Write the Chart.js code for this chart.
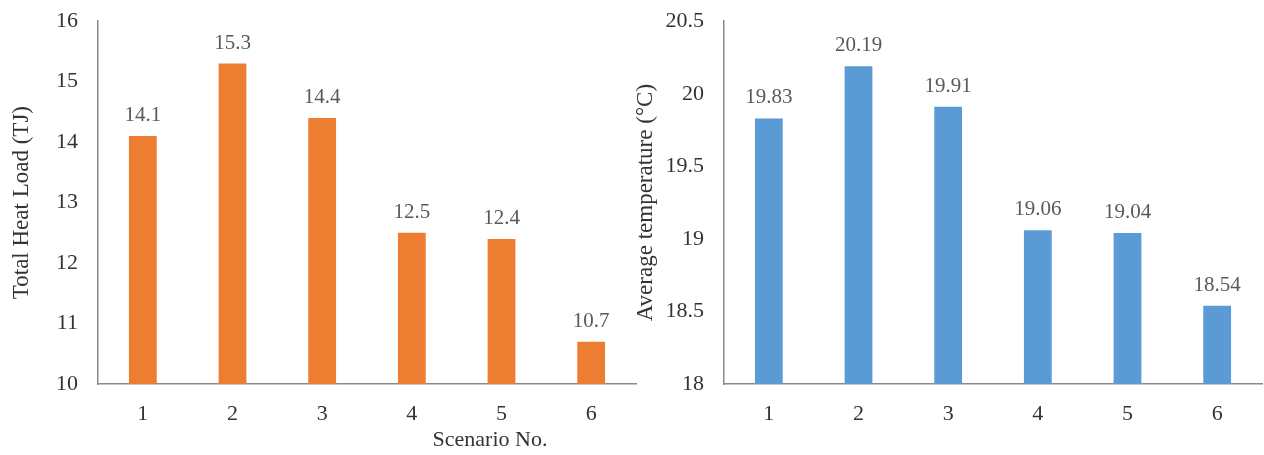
<!DOCTYPE html>
<html lang="en">

<head>
   <meta charset="UTF-8">
   <title>Scenario comparison</title>
   <style>
      body { margin: 0; background: #fff; }
      #wrap { position: relative; width: 1264px; height: 455px; overflow: hidden; }
      canvas { position: absolute; top: -12px; }
      #heat { left: 0; }
      #temp { left: 630px; }
      #xtitle {
         position: absolute; left: 390px; width: 200px; top: 426px; text-align: center;
         font-family: "Liberation Serif", "Times New Roman", serif; font-size: 22px; color: #333;
      }
   </style>
</head>

<body>
   <script src="https://cdn.jsdelivr.net/npm/chart.js"></script>
   <div id="wrap">
      <canvas id="heat" width="640" height="467"></canvas>
      <canvas id="temp" width="634" height="467"></canvas>
      <div id="xtitle">Scenario No.</div>
   </div>
   <script>
      const scenarios = ["1", "2", "3", "4", "5", "6"];
      const heatLoad = [14.1, 15.3, 14.4, 12.5, 12.4, 10.7];
      const avgTemp = [19.83, 20.19, 19.91, 19.06, 19.04, 18.54];

      const serif = '"Liberation Serif", "Times New Roman", serif';

      // writes the value above each bar
      const valueLabels = {
         id: 'valueLabels',
         afterDatasetsDraw(chart, args, opts) {
            const ctx = chart.ctx;
            const meta = chart.getDatasetMeta(0);
            const values = chart.data.datasets[0].data;
            ctx.save();
            ctx.font = '21px ' + serif;
            ctx.fillStyle = '#595959';
            ctx.textAlign = 'center';
            ctx.textBaseline = 'alphabetic';
            meta.data.forEach((bar, i) => {
               ctx.fillText(values[i].toFixed(opts.decimals), bar.x, bar.y - 15);
            });
            ctx.restore();
         }
      };

      function makeChart(id, values, color, yTitle, min, max, step, decimals, pad, axisW, titlePad) {
         return new Chart(document.getElementById(id), {
            type: 'bar',
            data: {
               labels: scenarios,
               datasets: [{
                  data: values,
                  backgroundColor: color,
                  categoryPercentage: 1,
                  barPercentage: 0.31
               }]
            },
            options: {
               responsive: false,
               animation: false,
               layout: { padding: pad },
               plugins: {
                  legend: { display: false },
                  tooltip: { enabled: false },
                  valueLabels: { decimals: decimals }
               },
               scales: {
                  x: {
                     grid: { display: false, drawTicks: false },
                     border: { color: '#8a8a8a', width: 1.5 },
                     ticks: { padding: 17, color: '#333', font: { family: serif, size: 22 } },
                     afterFit: s => { s.height = 71; }
                  },
                  y: {
                     min: min,
                     max: max,
                     grid: { display: false, drawTicks: false },
                     border: { color: '#8a8a8a', width: 1.5 },
                     ticks: {
                        stepSize: step,
                        padding: 20,
                        color: '#333',
                        font: { family: serif, size: 22 },
                        callback: v => String(v)
                     },
                     title: {
                        display: true,
                        text: yTitle,
                        color: '#333',
                        font: { family: serif, size: 23 },
                        padding: { top: titlePad, bottom: 0 }
                     },
                     afterFit: s => { s.width = axisW; }
                  }
               }
            },
            plugins: [valueLabels]
         });
      }

      makeChart('heat', heatLoad, '#ED7D31', 'Total Heat Load (TJ)', 10, 16, 1, 1,
         { top: 6, right: 4, bottom: 0, left: 0 }, 98, 8);
      makeChart('temp', avgTemp, '#5B9BD5', 'Average temperature (°C)', 18, 20.5, 0.5, 2,
         { top: 16, right: 2, bottom: 0, left: 0 }, 94, 2);
   </script>
</body>

</html>
